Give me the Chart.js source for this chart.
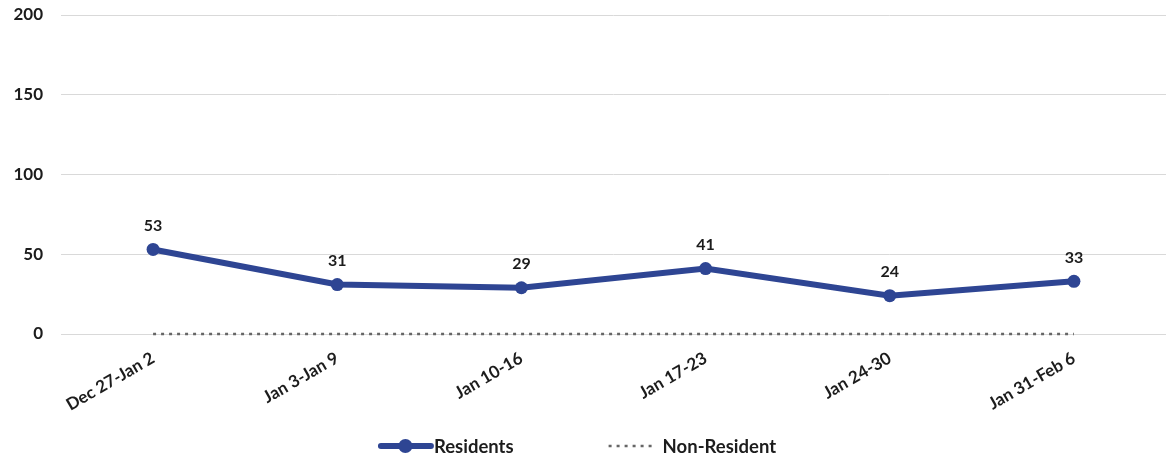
<!DOCTYPE html>
<html>
<head>
<meta charset="utf-8">
<script src="https://cdn.jsdelivr.net/npm/chart.js@4"></script>
<style>
html,body{margin:0;padding:0;background:#fff;}
#wrap{width:1166px;height:461px;position:relative;}
</style>
</head>
<body>
<div id="wrap"><canvas id="c"></canvas></div>
<script>
const categories = ["Dec 27-Jan 2","Jan 3-Jan 9","Jan 10-16","Jan 17-23","Jan 24-30","Jan 31-Feb 6"];
const residents = [53,31,29,41,24,33];
const nonResident = [0,0,0,0,0,0];
const yTicks = [0,50,100,150,200];

const BLUE = '#2E4593';
const GREY = '#666666';
const TEXT = '#1c1c1c';
const FONT = 'Lato, "Open Sans", sans-serif';

const dataLabels = {
  id:'dataLabels',
  afterDatasetsDraw(chart){
    const ctx = chart.ctx;
    const meta = chart.getDatasetMeta(0);
    ctx.save();
    ctx.font = 'bold 16px ' + FONT;
    ctx.fillStyle = TEXT;
    ctx.textAlign = 'center';
    ctx.textBaseline = 'middle';
    meta.data.forEach((p,i)=>{
      ctx.fillText(String(chart.data.datasets[0].data[i]), p.x, p.y - 24);
    });
    ctx.restore();
  }
};

const customLegend = {
  id:'customLegend',
  afterDraw(chart){
    const ctx = chart.ctx;
    const ds = chart.data.datasets;
    ctx.save();
    ctx.font = 'bold 18.5px ' + FONT;
    ctx.textBaseline = 'middle';
    ctx.textAlign = 'left';
    const y = 446;
    const w0 = ctx.measureText(ds[0].label).width;
    const w1 = ctx.measureText(ds[1].label).width;
    const sym0 = 55, gap0 = 1, sym1 = 46, gap1 = 8, between = 95;
    const total = sym0 + gap0 + w0 + between + sym1 + gap1 + w1;
    let x = 577 - total/2;
    // Residents symbol
    ctx.strokeStyle = ds[0].borderColor; ctx.lineWidth = 6; ctx.lineCap = 'round';
    ctx.beginPath(); ctx.moveTo(x+3, y); ctx.lineTo(x+sym0-2, y); ctx.stroke();
    ctx.fillStyle = ds[0].borderColor;
    ctx.beginPath(); ctx.arc(x+sym0/2, y, 7, 0, Math.PI*2); ctx.fill();
    x += sym0 + gap0;
    ctx.fillStyle = TEXT; ctx.fillText(ds[0].label, x, y+1);
    x += w0 + between;
    // Non-Resident symbol
    ctx.strokeStyle = ds[1].borderColor; ctx.lineWidth = 2.5; ctx.lineCap = 'butt';
    ctx.setLineDash([3,5]);
    ctx.beginPath(); ctx.moveTo(x, y); ctx.lineTo(x+sym1, y); ctx.stroke();
    ctx.setLineDash([]);
    x += sym1 + gap1;
    ctx.fillStyle = TEXT; ctx.fillText(ds[1].label, x, y+1);
    ctx.restore();
  }
};

new Chart(document.getElementById('c'), {
  type:'line',
  data:{
    labels: categories,
    datasets:[
      {label:'Residents', data: residents, borderColor: BLUE, backgroundColor: BLUE,
       borderWidth: 6, pointRadius: 6.5, pointHoverRadius: 6.5, pointBackgroundColor: BLUE,
       pointBorderWidth: 0, pointStyle:'circle', tension: 0, order: 0, clip: false},
      {label:'Non-Resident', data: nonResident, borderColor: GREY, backgroundColor: GREY,
       borderWidth: 2.5, borderDash: [3,5], pointRadius: 0, tension: 0, order: 1, clip: false}
    ]
  },
  options:{
    responsive:true,
    maintainAspectRatio:false,
    animation:false,
    layout:{autoPadding:false, padding:{top:15,left:0,right:0,bottom:40}},
    plugins:{
      legend:{display:false},
      tooltip:{enabled:false}
    },
    scales:{
      x:{
        offset:true,
        grid:{display:false, drawTicks:false},
        border:{display:false},
        ticks:{color:TEXT, font:{family:FONT,size:17,weight:'bold'}, minRotation:30, maxRotation:30, padding:14, autoSkip:false},
        afterFit(axis){ axis.height = 461 - 334 - 40; axis.paddingLeft = 0; axis.paddingRight = 0; }
      },
      y:{
        min:0, max:200,
        afterBuildTicks(axis){ axis.ticks = yTicks.map(v=>({value:v})); },
        grid:{color:'#d9d9d9', lineWidth:1, drawTicks:false},
        border:{display:false},
        ticks:{color:TEXT, font:{family:FONT,size:17,weight:'bold'}, padding:18},
        afterFit(axis){ axis.width = 61; axis.paddingTop = 0; axis.paddingBottom = 0; }
      }
    }
  },
  plugins:[dataLabels, customLegend]
});
</script>
</body>
</html>
